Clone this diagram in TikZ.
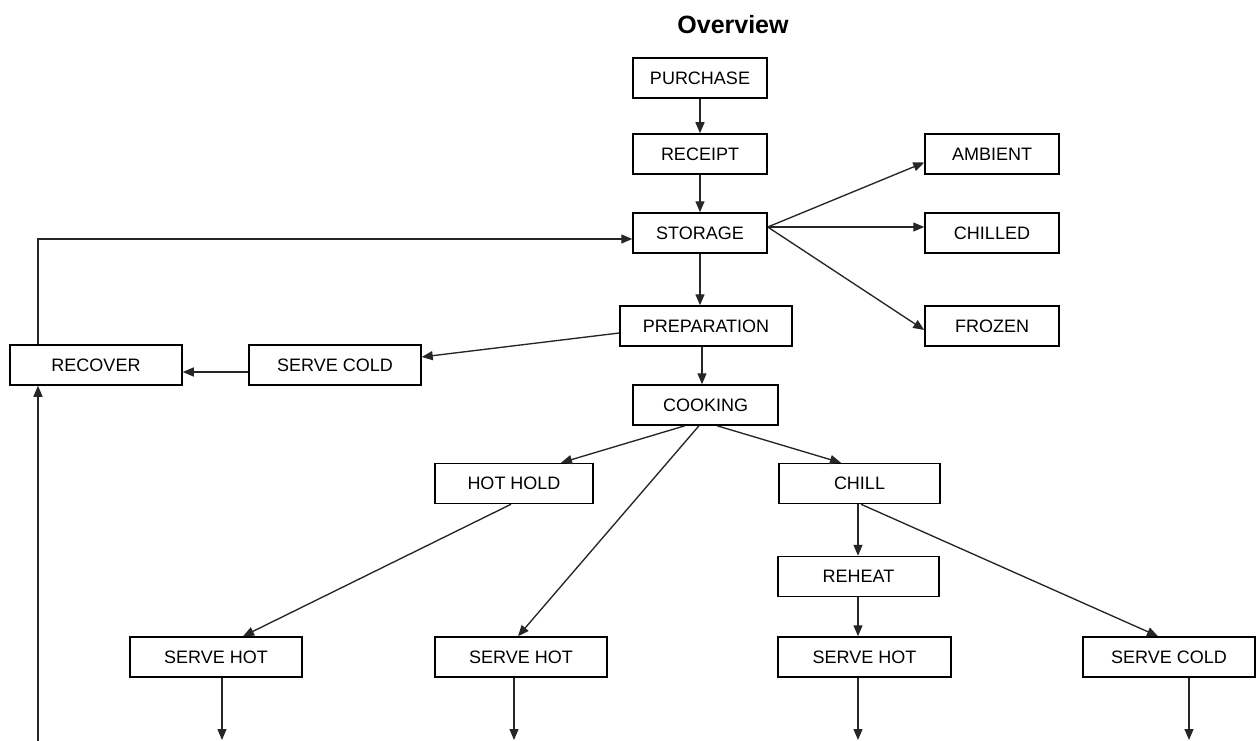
\documentclass[tikz,border=0pt]{standalone}
\usepackage{fontspec}
\setmainfont{Liberation Sans}
\usetikzlibrary{arrows.meta}
\begin{document}
\begin{tikzpicture}[x=1pt,y=-1pt,
  stepbox/.style={draw=black, line width=1.5pt, fill=white, inner sep=0pt,
    minimum height=40pt, font=\fontsize{18}{20}\selectfont},
  flow/.style={draw=black!85, line width=1.35pt, -{Triangle[length=11pt,width=9pt]}}]
\useasboundingbox (0,0) rectangle (1258,741);

\node (title) at (733,25) {\fontsize{25}{28}\selectfont\bfseries Overview};

% main chain
\node[stepbox, minimum width=134pt] (purchase) at (700,78) {PURCHASE};
\node[stepbox, minimum width=134pt] (receipt) at (700,154) {RECEIPT};
\node[stepbox, minimum width=134pt] (storage) at (700,233) {STORAGE};
\node[stepbox, minimum width=172pt] (preparation) at (706,326) {PREPARATION};
\node[stepbox, minimum width=145pt] (cooking) at (705.5,405) {COOKING};

% storage types
\node[stepbox, minimum width=134pt] (ambient) at (992,154) {AMBIENT};
\node[stepbox, minimum width=134pt] (chilled) at (992,233) {CHILLED};
\node[stepbox, minimum width=134pt] (frozen) at (992,326) {FROZEN};

% cold service and recovery
\node[stepbox, minimum width=172pt] (recover) at (96,365) {RECOVER};
\node[stepbox, minimum width=172pt] (servecoldA) at (335,365) {SERVE COLD};

% after cooking
\node[stepbox, minimum width=158pt] (hothold) at (514,483.5) {HOT HOLD};
\node[stepbox, minimum width=161pt] (chill) at (859.5,483.5) {CHILL};
\node[stepbox, minimum width=161pt] (reheat) at (858.5,576.5) {REHEAT};

% service
\node[stepbox, minimum width=172pt] (hotA) at (216,657) {SERVE HOT};
\node[stepbox, minimum width=172pt] (hotB) at (521,657) {SERVE HOT};
\node[stepbox, minimum width=173pt] (hotC) at (864.5,657) {SERVE HOT};
\node[stepbox, minimum width=172pt] (servecoldB) at (1169,657) {SERVE COLD};

% loose ends running off the bottom
\coordinate (endA) at (222,740);
\coordinate (endB) at (514,740);
\coordinate (endC) at (858,740);
\coordinate (endD) at (1189,740);
\coordinate (recIn) at (38,741);
\coordinate (loopTop) at (38,239);

% main chain arrows
\draw[flow] (purchase) -- (receipt);
\draw[flow] (receipt) -- (storage);
\draw[flow] (storage.south) -- (storage.south |- preparation.north);
\draw[flow] ([xshift=-4pt]preparation.south) -- ([xshift=-4pt]preparation.south |- cooking.north);

% storage branches
\draw[flow] ([yshift=6pt]storage.east) -- ([yshift=-8.5pt]ambient.west);
\draw[flow] ([yshift=6pt]storage.east) -- ([yshift=6pt]chilled.west);
\draw[flow] ([yshift=6pt]storage.east) -- ([yshift=-4pt]frozen.west);

% cold path and recovery loop
\draw[flow] ([yshift=-7pt]preparation.west) -- ([yshift=8pt]servecoldA.east);
\draw[flow] ([yshift=-7pt]servecoldA.west) -- ([yshift=-7pt]servecoldA.west -| recover.east);
\draw[flow] (recover.north -| loopTop) -- (loopTop) -- (loopTop -| storage.west);
\draw[flow] (recIn) -- (recIn |- recover.south);

% cooking branches
\draw[flow] ([xshift=-20.5pt]cooking.south) -- ([xshift=47pt]hothold.north);
\draw[flow] ([xshift=-6.5pt]cooking.south) -- ([xshift=-3pt]hotB.north);
\draw[flow] ([xshift=11.5pt]cooking.south) -- ([xshift=-18.5pt]chill.north);
\draw[flow] ([xshift=-3pt]hothold.south) -- ([xshift=27pt]hotA.north);
\draw[flow] ([xshift=-1.5pt]chill.south) -- ([xshift=-1.5pt]chill.south |- reheat.north);
\draw[flow] ([xshift=1.5pt]chill.south) -- ([xshift=-11pt]servecoldB.north);
\draw[flow] ([xshift=-0.5pt]reheat.south) -- ([xshift=-0.5pt]reheat.south |- hotC.north);

% service outflows
\draw[flow] (hotA.south -| endA) -- (endA);
\draw[flow] (hotB.south -| endB) -- (endB);
\draw[flow] (hotC.south -| endC) -- (endC);
\draw[flow] (servecoldB.south -| endD) -- (endD);
\end{tikzpicture}
\end{document}
